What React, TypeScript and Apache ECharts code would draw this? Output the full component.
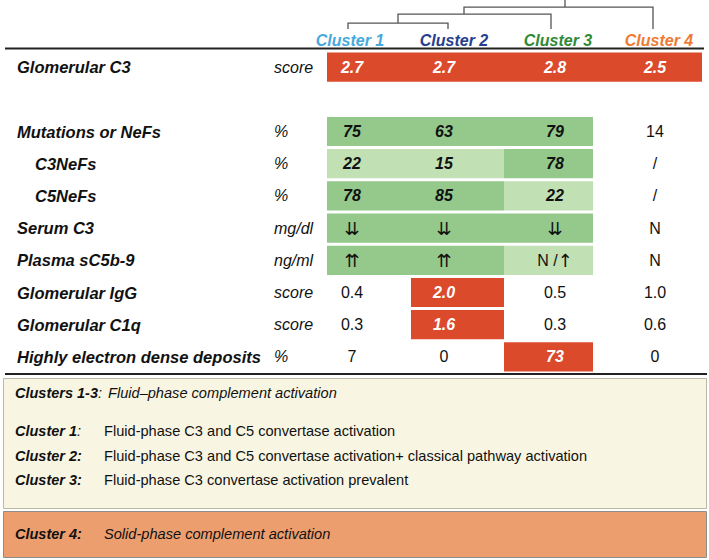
import React, { useEffect, useRef } from 'react';
import * as echarts from 'echarts';

// ---------- data ----------
const ROWS = [
  'Glomerular C3',
  '',
  'Mutations or NeFs',
  'C3NeFs',
  'C5NeFs',
  'Serum C3',
  'Plasma sC5b-9',
  'Glomerular IgG',
  'Glomerular C1q',
  'Highly electron dense deposits',
];
const INDENTED = ['C3NeFs', 'C5NeFs'];
const UNITS = ['score', '', '%', '%', '%', 'mg/dl', 'ng/ml', 'score', 'score', '%'];
const CLUSTERS = ['Cluster 1', 'Cluster 2', 'Cluster 3', 'Cluster 4'];
const CLUSTER_1 = ['2.7', '', '75', '22', '78', '↓↓', '↑↑', '0.4', '0.3', '7'];
const CLUSTER_2 = ['2.7', '', '63', '15', '85', '↓↓', '↑↑', '2.0', '1.6', '0'];
const CLUSTER_3 = ['2.8', '', '79', '78', '22', '↓↓', 'N /↑', '0.5', '0.3', '73'];
const CLUSTER_4 = ['2.5', '', '14', '/', '/', 'N', 'N', '1.0', '0.6', '0'];
const VALUES = [CLUSTER_1, CLUSTER_2, CLUSTER_3, CLUSTER_4];
// [row, first column, last column (exclusive), kind]
const HIGHLIGHTS: [number, number, number, string][] = [
  [0, 0, 4, 'red'],
  [2, 0, 3, 'dark'],
  [3, 0, 2, 'light'],
  [3, 2, 3, 'dark'],
  [4, 0, 2, 'dark'],
  [4, 2, 3, 'light'],
  [5, 0, 3, 'dark'],
  [6, 0, 2, 'dark'],
  [6, 2, 3, 'light'],
  [7, 1, 2, 'red'],
  [8, 1, 2, 'red'],
  [9, 2, 3, 'red'],
];

// ---------- layout (x-axis units) ----------
const COL_EDGES = [0, 84, 177, 266, 375];
const TEXT_X = [25, 117, 228, 328];
const HEADER_X = [23, 127, 231, 332];
const LEAF_X = [21, 121, 224, 326];
const MERGE_X = [71, 137, 238];

const FONT = '"Liberation Sans", Arial, Helvetica, sans-serif';
const ARROW_FONT = '"DejaVu Sans", sans-serif';
const FILLS: Record<string, string> = { red: '#dc4a2c', dark: '#94c98b', light: '#c1e0b4' };
const HEADER_COLORS = ['#47a9dc', '#273d8e', '#2f8a37', '#ee7b33'];

function kindAt(row: number, col: number): string | null {
  for (const h of HIGHLIGHTS) {
    if (h[0] === row && col >= h[1] && col < h[2]) return h[3];
  }
  return null;
}

// wrap arrow glyphs in a rich-text style so they are drawn larger
function richArrows(txt: string): string {
  return txt
    .replace(/↓↓/g, '{a|⇊}')
    .replace(/↑↑/g, '{a|⇈}')
    .replace(/(^|[^|⇊⇈])↑/g, '$1{a|↑}')
    .replace(/(^|[^|⇊⇈])↓/g, '$1{a|↓}');
}

export default function App() {
  const ref = useRef<HTMLDivElement>(null);
  useEffect(() => {
    if (!ref.current) return;
    const chart = echarts.init(ref.current, undefined, { renderer: 'svg' });

    const textData: number[][] = [];
    ROWS.forEach((_, r) => {
      VALUES.forEach((_, c) => textData.push([TEXT_X[c], r, c]));
    });

    const option: any = {
      animation: false,
      backgroundColor: '#ffffff',
      grid: { left: 327, right: 7, top: 51, bottom: 187 },
      xAxis: { type: 'value', min: 0, max: 375, show: false },
      yAxis: [
        {
          type: 'category',
          data: ROWS,
          inverse: true,
          axisLine: { show: false },
          axisTick: { show: false },
          splitLine: { show: false },
          axisLabel: {
            interval: 0,
            align: 'left',
            margin: 310,
            color: '#111',
            fontFamily: FONT,
            fontSize: 16.5,
            fontWeight: 'bold',
            fontStyle: 'italic',
            formatter: (v: string) => (INDENTED.includes(v) ? `{ind|${v}}` : v),
            rich: {
              ind: {
                padding: [0, 0, 0, 18],
                fontFamily: FONT,
                fontSize: 16.5,
                fontWeight: 'bold',
                fontStyle: 'italic',
                color: '#111',
              },
            },
          },
        },
        {
          type: 'category',
          data: UNITS,
          inverse: true,
          position: 'left',
          axisLine: { show: false },
          axisTick: { show: false },
          splitLine: { show: false },
          axisLabel: {
            interval: 0,
            align: 'left',
            margin: 53,
            color: '#111',
            fontFamily: FONT,
            fontSize: 16,
            fontStyle: 'italic',
          },
        },
      ],
      series: [
        {
          type: 'custom',
          name: 'cells',
          data: HIGHLIGHTS.map((h) => [COL_EDGES[h[1]], h[0], COL_EDGES[h[2]]]),
          encode: { x: [0, 2], y: 1 },
          renderItem: (params: any, api: any) => {
            const h = HIGHLIGHTS[params.dataIndex];
            const p0 = api.coord([api.value(0), h[0]]);
            const p1 = api.coord([api.value(2), h[0]]);
            const bh = api.size([0, 1])[1];
            return {
              type: 'rect',
              shape: { x: p0[0], y: p0[1] - bh / 2 + 1.5, width: p1[0] - p0[0], height: bh - 3 },
              style: { fill: FILLS[h[3]] },
            };
          },
        },
        {
          type: 'custom',
          name: 'values',
          data: textData,
          encode: { x: 0, y: 1 },
          renderItem: (params: any, api: any) => {
            const d = textData[params.dataIndex];
            const row = d[1];
            const col = d[2];
            const txt = VALUES[col][row];
            if (!txt) return null;
            const p = api.coord([d[0], row]);
            const kind = kindAt(row, col);
            const isArrow = /[↑↓]/.test(txt);
            const emph = kind !== null && !isArrow;
            const fill = kind === 'red' ? '#ffffff' : '#111111';
            const base = {
              fontFamily: FONT,
              fontSize: 16,
              fontWeight: emph ? 'bold' : 'normal',
              fontStyle: emph ? 'italic' : 'normal',
              fill,
            };
            return {
              type: 'text',
              x: p[0],
              y: p[1],
              style: {
                text: isArrow ? richArrows(txt) : txt,
                ...base,
                align: 'center',
                verticalAlign: 'middle',
                rich: isArrow
                  ? { a: { fontFamily: ARROW_FONT, fontSize: 18, fontWeight: 'normal', fill: '#111' } }
                  : undefined,
              },
            };
          },
        },
        {
          type: 'custom',
          name: 'frame',
          data: [[0, 0]],
          encode: { x: 0, y: 1 },
          renderItem: (_params: any, api: any) => {
            const y0 = api.coord([0, 0])[1];
            const yLast = api.coord([0, ROWS.length - 1])[1];
            const xs = LEAF_X.map((v) => api.coord([v, 0])[0]);
            const ms = MERGE_X.map((v) => api.coord([v, 0])[0]);
            const leafB = y0 - 38;
            const lA = y0 - 44;
            const lB = y0 - 53;
            const lC = y0 - 60;
            const top = y0 - 67;
            const dStyle = { stroke: '#555', lineWidth: 1.3, fill: 'none' };
            const children: any[] = [
              { type: 'polyline', shape: { points: [[xs[0], leafB], [xs[0], lA], [xs[1], lA], [xs[1], leafB]] }, style: dStyle },
              { type: 'polyline', shape: { points: [[ms[0], lA], [ms[0], lB], [xs[2], lB], [xs[2], leafB]] }, style: dStyle },
              { type: 'polyline', shape: { points: [[ms[1], lB], [ms[1], lC], [xs[3], lC], [xs[3], leafB]] }, style: dStyle },
              { type: 'line', shape: { x1: ms[2], y1: lC, x2: ms[2], y2: top }, style: dStyle },
              { type: 'line', shape: { x1: 5, y1: y0 - 18.5, x2: 704, y2: y0 - 18.5 }, style: { stroke: '#222', lineWidth: 2 } },
              { type: 'line', shape: { x1: 5, y1: yLast + 17, x2: 707, y2: yLast + 17 }, style: { stroke: '#222', lineWidth: 2 } },
            ];
            CLUSTERS.forEach((c, i) => {
              const x = api.coord([HEADER_X[i], 0])[0];
              children.push({
                type: 'text',
                x,
                y: y0 - 27,
                style: {
                  text: c,
                  fill: HEADER_COLORS[i],
                  fontFamily: FONT,
                  fontSize: 16,
                  fontWeight: 'bold',
                  fontStyle: 'italic',
                  align: 'center',
                  verticalAlign: 'middle',
                },
              });
            });
            return { type: 'group', children };
          },
        },
      ],
      graphic: [
        {
          type: 'rect',
          shape: { x: 3.5, y: 378.5, width: 703, height: 130 },
          style: { fill: '#f8f6e3', stroke: '#b9b9a6', lineWidth: 1 },
        },
        {
          type: 'rect',
          shape: { x: 3.5, y: 511.5, width: 703, height: 46 },
          style: { fill: '#ed9e6f', stroke: '#8e8e88', lineWidth: 1 },
        },
        ...[
          { y: 393, head: 'Clusters 1-3', boldColon: false, body: 'Fluid–phase complement activation', italic: true, bx: 108 },
          { y: 431, head: 'Cluster 1', boldColon: false, body: 'Fluid-phase C3 and C5 convertase activation', italic: false, bx: 104 },
          { y: 456, head: 'Cluster 2', boldColon: true, body: 'Fluid-phase C3 and C5 convertase activation+ classical pathway activation', italic: false, bx: 104 },
          { y: 480, head: 'Cluster 3', boldColon: true, body: 'Fluid-phase C3 convertase activation prevalent', italic: false, bx: 104 },
          { y: 534, head: 'Cluster 4', boldColon: true, body: 'Solid-phase complement activation', italic: true, bx: 104 },
        ].flatMap((t) => [
          {
            type: 'text',
            x: 15,
            y: t.y,
            style: {
              text: `{h|${t.head}}{c|:}`,
              verticalAlign: 'middle',
              rich: {
                h: { fontFamily: FONT, fontSize: 14.5, fontWeight: 'bold', fontStyle: 'italic', fill: '#111' },
                c: {
                  fontFamily: FONT,
                  fontSize: 14.5,
                  fontWeight: t.boldColon ? 'bold' : 'normal',
                  fontStyle: 'italic',
                  fill: '#111',
                },
              },
            },
          },
          {
            type: 'text',
            x: t.bx,
            y: t.y,
            style: {
              text: t.body,
              fontFamily: FONT,
              fontSize: 14.6,
              fontStyle: t.italic ? 'italic' : 'normal',
              fill: '#111',
              verticalAlign: 'middle',
            },
          },
        ]),
      ],
    };
    chart.setOption(option);
    return () => chart.dispose();
  }, []);
  return (
    <div
      ref={ref}
      style={{ position: 'fixed', left: 0, top: 0, width: 709, height: 560, background: '#fff' }}
    />
  );
}
